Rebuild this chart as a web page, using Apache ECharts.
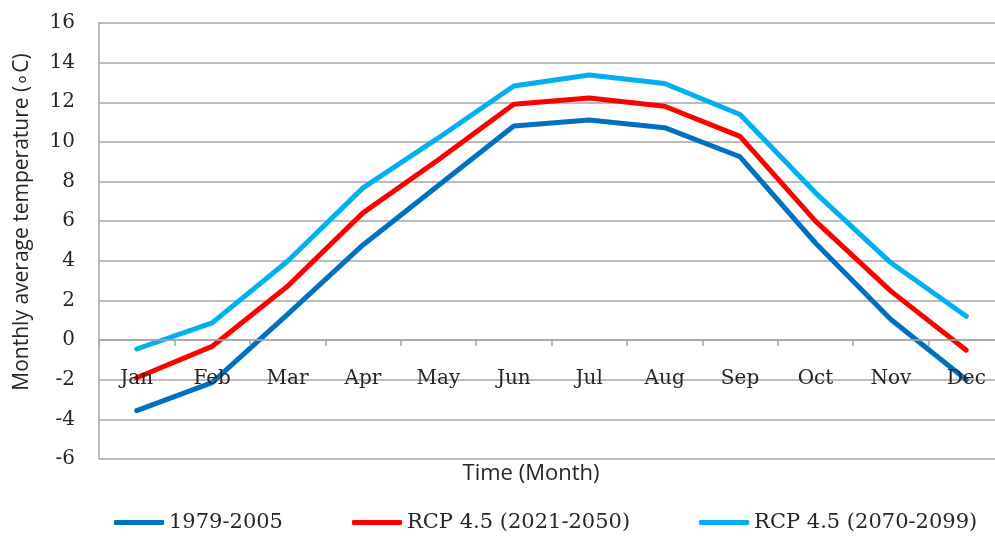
<!DOCTYPE html>
<html>
<head>
<meta charset="utf-8">
<script src="https://cdn.jsdelivr.net/npm/echarts@6/dist/echarts.min.js"></script>
<style>
  html, body { margin: 0; padding: 0; background: #ffffff; overflow: hidden; }
  /* the plot runs slightly past the right edge of the page */
  #chart { width: 1010px; height: 540px; }
</style>
</head>
<body>
<div id="chart"></div>
<script>
// Monthly mean temperature, baseline and RCP 4.5 projections
const months = ['Jan', 'Feb', 'Mar', 'Apr', 'May', 'Jun', 'Jul', 'Aug', 'Sep', 'Oct', 'Nov', 'Dec'];
const baseline = [-3.56, -2.15, 1.3, 4.8, 7.8, 10.8, 11.1, 10.72, 9.25, 4.9, 1.04, -2.0];
const rcpMid   = [-1.9, -0.32, 2.72, 6.42, 9.1, 11.9, 12.22, 11.8, 10.28, 6.0, 2.47, -0.51];
const rcpLate  = [-0.45, 0.87, 3.98, 7.68, 10.2, 12.82, 13.38, 12.95, 11.38, 7.43, 3.9, 1.2];
const seriesNames = ['1979-2005', 'RCP 4.5 (2021-2050)', 'RCP 4.5 (2070-2099)'];
const seriesColors = ['#0070C0', '#FF0000', '#00B0F0'];
const yTitle = 'Monthly average temperature (\u2218C)';
const xTitle = 'Time (Month)';

const serifFont = '"DejaVu Serif", "Liberation Serif", serif';
const sansFont = '"Open Sans", "Liberation Sans", sans-serif';
const gridColor = '#a6a6a6';
const textColor = '#262626';

const chart = echarts.init(document.getElementById('chart'), null, { renderer: 'canvas' });

const values = [baseline, rcpMid, rcpLate];

chart.setOption({
  animation: false,
  backgroundColor: '#ffffff',
  grid: { left: 99, top: 23, right: 6, bottom: 81, containLabel: false },
  xAxis: {
    type: 'category',
    data: months,
    boundaryGap: true,
    axisLine: { show: true, onZero: true, lineStyle: { color: gridColor, width: 1.5 } },
    axisTick: { show: true, length: 6, lineStyle: { color: gridColor, width: 1.5 } },
    // month names sit just under the zero line
    axisLabel: { margin: -90, color: textColor, fontFamily: serifFont, fontSize: 20 },
    splitLine: { show: false },
    z: 10
  },
  yAxis: {
    type: 'value',
    min: -6,
    max: 16,
    interval: 2,
    axisLine: { show: true, lineStyle: { color: gridColor, width: 1.5 } },
    axisTick: { show: false },
    axisLabel: { margin: 24, color: textColor, fontFamily: serifFont, fontSize: 20 },
    splitLine: { show: true, lineStyle: { color: gridColor, width: 1.5 } }
  },
  legend: {
    top: 512,
    left: 114,
    padding: 0,
    icon: 'roundRect',
    itemWidth: 50,
    itemHeight: 5,
    itemGap: 69,
    textStyle: { color: textColor, fontFamily: serifFont, fontSize: 21 },
    data: seriesNames
  },
  series: values.map((v, i) => ({
    name: seriesNames[i],
    type: 'line',
    data: v,
    symbol: 'none',
    color: seriesColors[i],
    lineStyle: { width: 5, color: seriesColors[i], cap: 'round' },
    z: 3 + i
  })),
  graphic: [
    {
      type: 'text',
      x: 22,
      y: 222,
      rotation: Math.PI / 2,
      style: {
        text: yTitle,
        fill: textColor,
        font: '21px ' + sansFont,
        textAlign: 'center',
        textVerticalAlign: 'middle'
      }
    },
    {
      type: 'text',
      x: 531,
      y: 474,
      style: {
        text: xTitle,
        fill: textColor,
        font: '22px ' + sansFont,
        textAlign: 'center',
        textVerticalAlign: 'middle'
      }
    }
  ]
});
</script>
</body>
</html>
